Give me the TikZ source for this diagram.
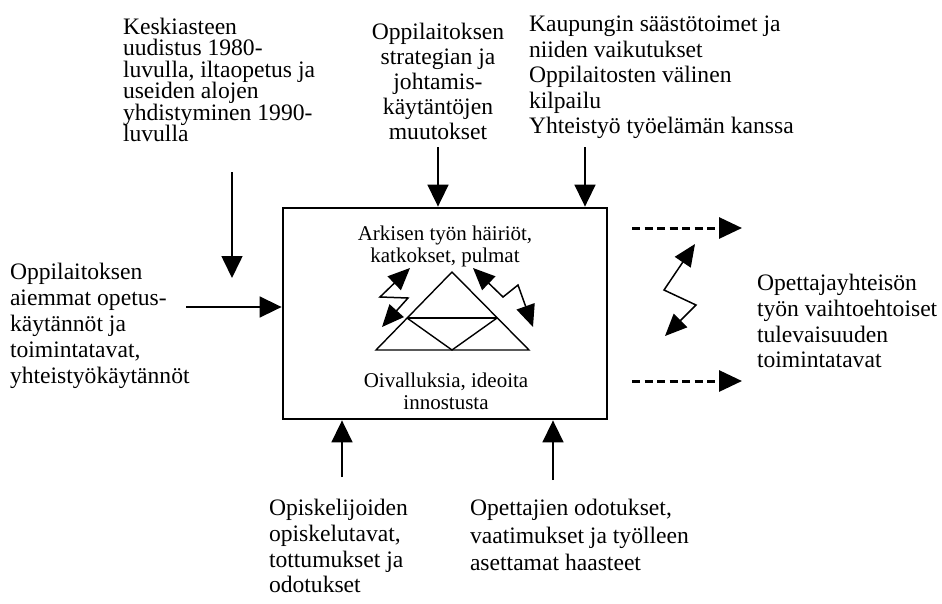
\documentclass[tikz,border=0pt]{standalone}
\usepackage{fontspec}
\setmainfont{Liberation Serif}
\usetikzlibrary{arrows.meta}
\begin{document}
\begin{tikzpicture}[x=1pt,y=-1pt,
  txt/.style={inner sep=0pt, outer sep=0pt, align=left, anchor=north west},
  boxtxt/.style={font=\fontsize{21}{22}\selectfont, inner sep=0pt, align=center, anchor=north},
  arr/.style={line width=1.6pt, -{Triangle[length=22pt,width=21pt]}},
  zz/.style={line width=1.5pt, line join=miter, {Triangle[length=22pt,width=19pt]}-{Triangle[length=22pt,width=19pt]}},
  dsh/.style={line width=3pt, dash pattern=on 8pt off 4.5pt, -{Triangle[length=23pt,width=21pt]}},
  tri/.style={line width=1.4pt, line join=miter}]
\useasboundingbox (0,0) rectangle (942,603);
\fill[white] (0,0) rectangle (942,603);

% main box
\node[draw, line width=2.8pt, minimum width=324pt, minimum height=211pt, inner sep=0pt] (box) at (445,313.5) {};

% texts
\node[txt, font=\fontsize{23.6}{21.5}\selectfont] (kesk) at (123,18)
  {Keskiasteen\\uudistus 1980-\\luvulla, iltaopetus ja\\useiden alojen\\yhdistyminen 1990-\\luvulla};
\node[txt, align=center, anchor=north, font=\fontsize{23.6}{25}\selectfont] (strat) at (438,23)
  {Oppilaitoksen\\strategian ja\\johtamis-\\käytäntöjen\\muutokset};
\node[txt, font=\fontsize{23.6}{25.5}\selectfont] (kaup) at (529,16)
  {Kaupungin säästötoimet ja\\niiden vaikutukset\\Oppilaitosten välinen\\kilpailu\\Yhteistyö työelämän kanssa};
\node[txt, font=\fontsize{23.6}{26}\selectfont] (aiem) at (10,263.5)
  {Oppilaitoksen\\aiemmat opetus-\\käytännöt ja\\toimintatavat,\\yhteistyökäytännöt};
\node[txt, font=\fontsize{23.6}{25.7}\selectfont] (tulev) at (757,274.5)
  {Opettajayhteisön\\työn vaihtoehtoiset\\tulevaisuuden\\toimintatavat};
\node[txt, font=\fontsize{23.6}{25.7}\selectfont] (opisk) at (269,499.5)
  {Opiskelijoiden\\opiskelutavat,\\tottumukset ja\\odotukset};
\node[txt, font=\fontsize{23.6}{27.5}\selectfont] (opett) at (470,499.5)
  {Opettajien odotukset,\\vaatimukset ja työlleen\\asettamat haasteet};

\node[boxtxt] (hair) at (445,225.5) {Arkisen työn häiriöt,\\katkokset, pulmat};
\node[boxtxt] (oiv) at (446,372.5) {Oivalluksia, ideoita\\innostusta};

% arrow end points
\coordinate (a1) at (232,172);
\coordinate (a2) at (232,278);
\coordinate (b1) at (438,147);
\coordinate (c1) at (585,147);
\coordinate (d1) at (186,307);
\coordinate (f1) at (342,477);
\coordinate (g1) at (553,480);
\coordinate (h1) at (632,228);
\coordinate (h2) at (742,228);
\coordinate (i1) at (632,381);
\coordinate (i2) at (742,381);

\draw[arr] (a1) -- (a2);
\draw[arr] (b1) -- (b1 |- box.north);
\draw[arr] (c1) -- (c1 |- box.north);
\draw[arr] (d1) -- (d1 -| box.west);
\draw[arr] (f1) -- (f1 |- box.south);
\draw[arr] (g1) -- (g1 |- box.south);

\draw[dsh] (h1) -- (h2);
\draw[dsh] (i1) -- (i2);

% zigzags
\draw[zz] (695,244) -- (664,290) -- (696,305) -- (665,336);
\draw[zz] (410,268) -- (380,297) -- (408,298) -- (382,327);
\draw[zz] (473,268) -- (503,297) -- (518,285) -- (533,327);

% triangle figure
\draw[tri] (452,272) -- (376,350) -- (529,350) -- cycle;
\draw[tri] (407,318) -- (497,318);
\draw[tri] (407,318) -- (452,350) -- (497,318);
\end{tikzpicture}
\end{document}
